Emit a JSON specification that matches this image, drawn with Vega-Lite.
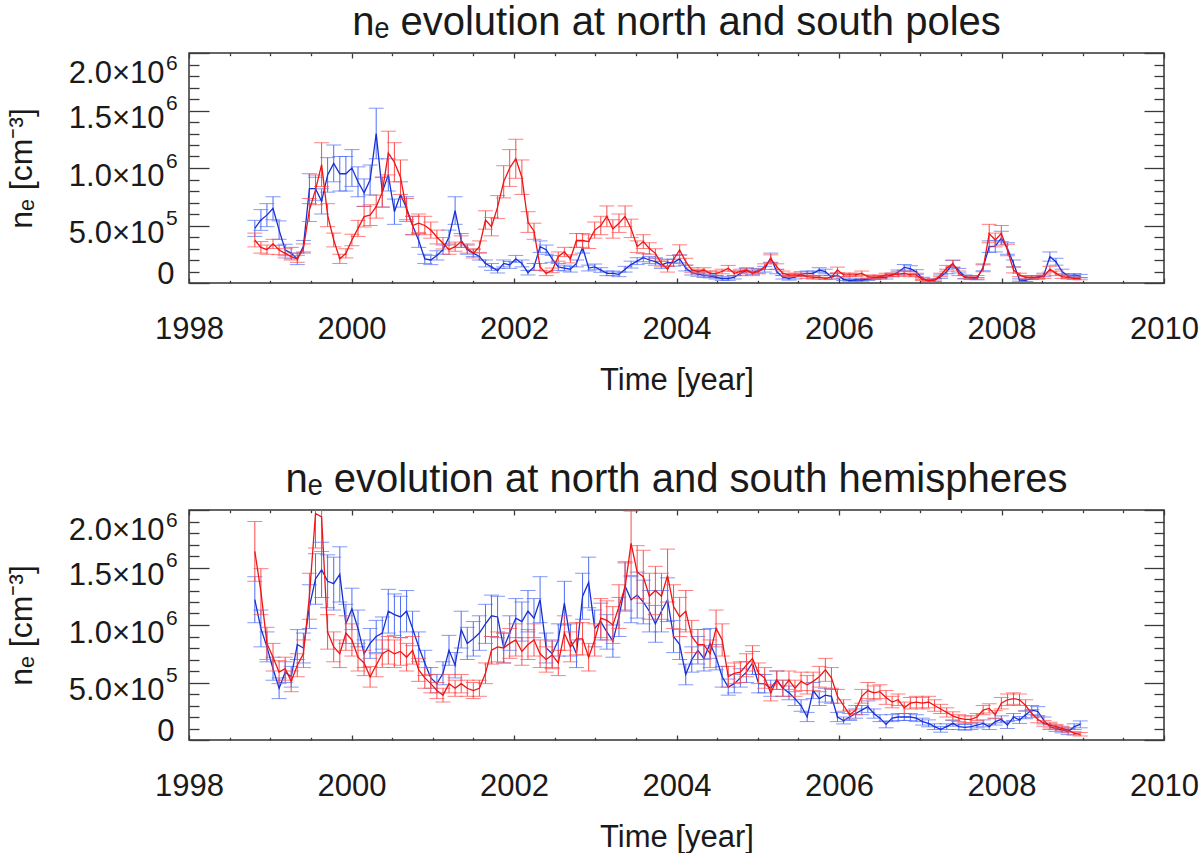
{
  "$schema": "https://vega.github.io/schema/vega-lite/v6.json",
  "background": "white",
  "padding": {"left": 4, "top": 2, "right": 0, "bottom": 0},
  "spacing": 63,
  "config": {
    "view": {"stroke": "#333333", "strokeWidth": 1.5},
    "font": "Liberation Sans",
    "axis": {"grid": false, "domain": false, "labelFont": "Liberation Sans", "titleFont": "Liberation Sans", "labelColor": "#1a1a1a", "titleColor": "#1a1a1a", "tickColor": "#3a3a3a", "tickWidth": 1.3, "titleFontWeight": "normal", "labelFontWeight": "normal"},
    "title": {"font": "Liberation Sans", "fontSize": 40, "fontWeight": "normal", "color": "#1a1a1a", "anchor": "middle", "frame": "group", "offset": 9}
  },
  "datasets": {
    "poles": [
      {"t":1998.810,"b":4.75e5,"be":0.7e5,"r":3.74e5,"re":0.6e5},
      {"t":1998.885,"b":5.48e5,"be":0.9e5,"r":3.1e5,"re":0.5e5},
      {"t":1998.959,"b":5.9e5,"be":1.0e5,"r":2.9e5,"re":0.4e5},
      {"t":1999.034,"b":6.5e5,"be":1.0e5,"r":3.4e5,"re":0.4e5},
      {"t":1999.109,"b":4.6e5,"be":0.8e5,"r":2.87e5,"re":0.4e5},
      {"t":1999.184,"b":2.87e5,"be":0.5e5,"r":2.58e5,"re":0.4e5},
      {"t":1999.258,"b":2.6e5,"be":0.5e5,"r":2.3e5,"re":0.3e5},
      {"t":1999.333,"b":2.1e5,"be":0.5e5,"r":2.1e5,"re":0.3e5},
      {"t":1999.408,"b":3.2e5,"be":0.5e5,"r":3.0e5,"re":0.4e5},
      {"t":1999.482,"b":8.2e5,"be":1.3e5,"r":6.35e5,"re":1.0e5},
      {"t":1999.557,"b":8.2e5,"be":1.0e5,"r":8.1e5,"re":1.3e5},
      {"t":1999.632,"b":7.1e5,"be":1.1e5,"r":10.3e5,"re":1.9e5},
      {"t":1999.706,"b":9.4e5,"be":1.5e5,"r":5.9e5,"re":1.0e5},
      {"t":1999.781,"b":10.4e5,"be":1.6e5,"r":3.74e5,"re":0.6e5},
      {"t":1999.856,"b":9.5e5,"be":1.5e5,"r":2.1e5,"re":0.4e5},
      {"t":1999.931,"b":9.5e5,"be":1.5e5,"r":2.58e5,"re":0.4e5},
      {"t":2000.005,"b":10.0e5,"be":1.6e5,"r":3.74e5,"re":0.5e5},
      {"t":2000.080,"b":8.8e5,"be":1.3e5,"r":4.75e5,"re":0.7e5},
      {"t":2000.155,"b":7.85e5,"be":1.2e5,"r":5.77e5,"re":0.9e5},
      {"t":2000.229,"b":8.96e5,"be":1.3e5,"r":5.9e5,"re":0.9e5},
      {"t":2000.304,"b":13.0e5,"be":2.2e5,"r":6.64e5,"re":1.0e5},
      {"t":2000.379,"b":7.9e5,"be":1.3e5,"r":7.9e5,"re":1.3e5},
      {"t":2000.453,"b":9.4e5,"be":1.4e5,"r":11.3e5,"re":1.9e5},
      {"t":2000.528,"b":6.2e5,"be":1.1e5,"r":10.5e5,"re":1.7e5},
      {"t":2000.603,"b":7.7e5,"be":1.1e5,"r":9.2e5,"re":1.5e5},
      {"t":2000.678,"b":6.5e5,"be":1.0e5,"r":6.35e5,"re":1.0e5},
      {"t":2000.752,"b":5.0e5,"be":0.8e5,"r":5.0e5,"re":0.8e5},
      {"t":2000.827,"b":3.7e5,"be":0.6e5,"r":5.2e5,"re":0.8e5},
      {"t":2000.902,"b":2.1e5,"be":0.4e5,"r":5.0e5,"re":0.8e5},
      {"t":2000.976,"b":2.0e5,"be":0.4e5,"r":4.6e5,"re":0.7e5},
      {"t":2001.051,"b":2.4e5,"be":0.4e5,"r":4.0e5,"re":0.6e5},
      {"t":2001.126,"b":2.9e5,"be":0.4e5,"r":3.45e5,"re":0.5e5},
      {"t":2001.200,"b":4.0e5,"be":0.6e5,"r":2.9e5,"re":0.4e5},
      {"t":2001.275,"b":6.3e5,"be":1.2e5,"r":3.16e5,"re":0.4e5},
      {"t":2001.350,"b":3.7e5,"be":0.6e5,"r":3.6e5,"re":0.5e5},
      {"t":2001.425,"b":2.9e5,"be":0.4e5,"r":3.0e5,"re":0.4e5},
      {"t":2001.499,"b":2.6e5,"be":0.3e5,"r":2.58e5,"re":0.4e5},
      {"t":2001.574,"b":2.3e5,"be":0.3e5,"r":3.16e5,"re":0.5e5},
      {"t":2001.649,"b":1.7e5,"be":0.3e5,"r":5.48e5,"re":0.8e5},
      {"t":2001.723,"b":1.4e5,"be":0.3e5,"r":4.9e5,"re":0.8e5},
      {"t":2001.798,"b":1.07e5,"be":0.2e5,"r":6.6e5,"re":1.0e5},
      {"t":2001.873,"b":1.7e5,"be":0.3e5,"r":8.8e5,"re":1.4e5},
      {"t":2001.947,"b":1.57e5,"be":0.3e5,"r":10.0e5,"re":1.6e5},
      {"t":2002.022,"b":2.1e5,"be":0.3e5,"r":10.8e5,"re":1.7e5},
      {"t":2002.097,"b":1.7e5,"be":0.3e5,"r":9.2e5,"re":1.5e5},
      {"t":2002.172,"b":0.9e5,"be":0.2e5,"r":5.3e5,"re":0.9e5},
      {"t":2002.246,"b":1.4e5,"be":0.3e5,"r":4.5e5,"re":0.7e5},
      {"t":2002.321,"b":3.16e5,"be":0.5e5,"r":1.4e5,"re":0.3e5},
      {"t":2002.396,"b":2.9e5,"be":0.4e5,"r":0.84e5,"re":0.2e5},
      {"t":2002.470,"b":2.1e5,"be":0.3e5,"r":1.1e5,"re":0.2e5},
      {"t":2002.545,"b":1.4e5,"be":0.3e5,"r":2.3e5,"re":0.4e5},
      {"t":2002.620,"b":1.3e5,"be":0.25e5,"r":2.7e5,"re":0.4e5},
      {"t":2002.694,"b":1.2e5,"be":0.25e5,"r":2.1e5,"re":0.35e5},
      {"t":2002.769,"b":1.7e5,"be":0.3e5,"r":3.7e5,"re":0.6e5},
      {"t":2002.844,"b":3.1e5,"be":0.5e5,"r":3.7e5,"re":0.6e5},
      {"t":2002.919,"b":1.3e5,"be":0.25e5,"r":3.6e5,"re":0.6e5},
      {"t":2002.993,"b":1.4e5,"be":0.25e5,"r":4.6e5,"re":0.7e5},
      {"t":2003.068,"b":1.13e5,"be":0.2e5,"r":5.0e5,"re":0.8e5},
      {"t":2003.143,"b":0.84e5,"be":0.2e5,"r":5.8e5,"re":0.9e5},
      {"t":2003.217,"b":0.84e5,"be":0.2e5,"r":4.7e5,"re":0.8e5},
      {"t":2003.292,"b":0.75e5,"be":0.2e5,"r":5.2e5,"re":0.8e5},
      {"t":2003.367,"b":1.2e5,"be":0.25e5,"r":5.8e5,"re":0.9e5},
      {"t":2003.441,"b":1.6e5,"be":0.3e5,"r":4.75e5,"re":0.8e5},
      {"t":2003.516,"b":1.9e5,"be":0.3e5,"r":3.16e5,"re":0.5e5},
      {"t":2003.591,"b":2.2e5,"be":0.35e5,"r":3.6e5,"re":0.6e5},
      {"t":2003.666,"b":2.0e5,"be":0.3e5,"r":3.0e5,"re":0.5e5},
      {"t":2003.740,"b":1.85e5,"be":0.3e5,"r":2.58e5,"re":0.4e5},
      {"t":2003.815,"b":1.57e5,"be":0.3e5,"r":1.7e5,"re":0.3e5},
      {"t":2003.890,"b":1.77e5,"be":0.3e5,"r":1.2e5,"re":0.25e5},
      {"t":2003.964,"b":1.77e5,"be":0.3e5,"r":2.05e5,"re":0.35e5},
      {"t":2004.039,"b":2.1e5,"be":0.35e5,"r":2.87e5,"re":0.45e5},
      {"t":2004.114,"b":1.3e5,"be":0.25e5,"r":1.85e5,"re":0.3e5},
      {"t":2004.188,"b":0.9e5,"be":0.2e5,"r":1.13e5,"re":0.2e5},
      {"t":2004.263,"b":0.78e5,"be":0.2e5,"r":1.0e5,"re":0.2e5},
      {"t":2004.338,"b":0.67e5,"be":0.2e5,"r":1.13e5,"re":0.2e5},
      {"t":2004.413,"b":0.6e5,"be":0.15e5,"r":0.84e5,"re":0.2e5},
      {"t":2004.487,"b":0.5e5,"be":0.15e5,"r":0.84e5,"re":0.2e5},
      {"t":2004.562,"b":0.38e5,"be":0.15e5,"r":1.0e5,"re":0.2e5},
      {"t":2004.637,"b":0.38e5,"be":0.15e5,"r":1.28e5,"re":0.25e5},
      {"t":2004.711,"b":0.5e5,"be":0.15e5,"r":0.84e5,"re":0.2e5},
      {"t":2004.786,"b":0.84e5,"be":0.2e5,"r":1.0e5,"re":0.2e5},
      {"t":2004.861,"b":1.07e5,"be":0.2e5,"r":1.13e5,"re":0.2e5},
      {"t":2004.935,"b":0.93e5,"be":0.2e5,"r":0.84e5,"re":0.2e5},
      {"t":2005.010,"b":1.07e5,"be":0.2e5,"r":1.0e5,"re":0.2e5},
      {"t":2005.085,"b":1.2e5,"be":0.25e5,"r":1.42e5,"re":0.25e5},
      {"t":2005.160,"b":2.2e5,"be":0.4e5,"r":2.1e5,"re":0.35e5},
      {"t":2005.234,"b":1.0e5,"be":0.2e5,"r":1.42e5,"re":0.25e5},
      {"t":2005.309,"b":0.5e5,"be":0.15e5,"r":0.84e5,"re":0.2e5},
      {"t":2005.384,"b":0.4e5,"be":0.15e5,"r":0.7e5,"re":0.15e5},
      {"t":2005.458,"b":0.5e5,"be":0.15e5,"r":0.7e5,"re":0.15e5},
      {"t":2005.533,"b":0.78e5,"be":0.2e5,"r":0.7e5,"re":0.15e5},
      {"t":2005.608,"b":0.84e5,"be":0.2e5,"r":0.55e5,"re":0.15e5},
      {"t":2005.682,"b":0.84e5,"be":0.2e5,"r":0.5e5,"re":0.15e5},
      {"t":2005.757,"b":1.13e5,"be":0.2e5,"r":0.5e5,"re":0.15e5},
      {"t":2005.832,"b":1.0e5,"be":0.2e5,"r":0.4e5,"re":0.1e5},
      {"t":2005.907,"b":0.5e5,"be":0.15e5,"r":0.5e5,"re":0.15e5},
      {"t":2005.981,"b":0.7e5,"be":0.15e5,"r":1.13e5,"re":0.25e5},
      {"t":2006.056,"b":0.32e5,"be":0.1e5,"r":0.7e5,"re":0.15e5},
      {"t":2006.131,"b":0.2e5,"be":0.1e5,"r":0.7e5,"re":0.15e5},
      {"t":2006.205,"b":0.26e5,"be":0.1e5,"r":0.7e5,"re":0.15e5},
      {"t":2006.280,"b":0.26e5,"be":0.1e5,"r":0.84e5,"re":0.2e5},
      {"t":2006.355,"b":0.32e5,"be":0.1e5,"r":0.55e5,"re":0.15e5},
      {"t":2006.429,"b":0.4e5,"be":0.1e5,"r":0.5e5,"re":0.15e5},
      {"t":2006.504,"b":0.5e5,"be":0.15e5,"r":0.55e5,"re":0.15e5},
      {"t":2006.579,"b":0.5e5,"be":0.15e5,"r":0.7e5,"re":0.15e5},
      {"t":2006.654,"b":0.7e5,"be":0.15e5,"r":0.7e5,"re":0.15e5},
      {"t":2006.728,"b":0.93e5,"be":0.2e5,"r":0.78e5,"re":0.2e5},
      {"t":2006.803,"b":1.36e5,"be":0.25e5,"r":0.84e5,"re":0.2e5},
      {"t":2006.878,"b":1.25e5,"be":0.25e5,"r":0.7e5,"re":0.15e5},
      {"t":2006.952,"b":0.96e5,"be":0.2e5,"r":0.7e5,"re":0.15e5},
      {"t":2007.027,"b":0.4e5,"be":0.1e5,"r":0.32e5,"re":0.1e5},
      {"t":2007.102,"b":0.2e5,"be":0.1e5,"r":0.2e5,"re":0.1e5},
      {"t":2007.176,"b":0.26e5,"be":0.1e5,"r":0.26e5,"re":0.1e5},
      {"t":2007.251,"b":0.55e5,"be":0.15e5,"r":0.7e5,"re":0.15e5},
      {"t":2007.326,"b":1.0e5,"be":0.2e5,"r":1.28e5,"re":0.25e5},
      {"t":2007.401,"b":1.65e5,"be":0.3e5,"r":1.7e5,"re":0.3e5},
      {"t":2007.475,"b":1.07e5,"be":0.2e5,"r":0.84e5,"re":0.2e5},
      {"t":2007.550,"b":0.55e5,"be":0.15e5,"r":0.5e5,"re":0.15e5},
      {"t":2007.625,"b":0.4e5,"be":0.1e5,"r":0.5e5,"re":0.15e5},
      {"t":2007.699,"b":0.38e5,"be":0.1e5,"r":0.5e5,"re":0.15e5},
      {"t":2007.774,"b":1.36e5,"be":0.3e5,"r":1.28e5,"re":0.3e5},
      {"t":2007.849,"b":3.16e5,"be":0.5e5,"r":4.3e5,"re":0.8e5},
      {"t":2007.923,"b":3.2e5,"be":0.5e5,"r":3.74e5,"re":0.6e5},
      {"t":2007.998,"b":3.9e5,"be":0.6e5,"r":4.3e5,"re":0.7e5},
      {"t":2008.073,"b":3.0e5,"be":0.5e5,"r":2.87e5,"re":0.5e5},
      {"t":2008.148,"b":1.7e5,"be":0.3e5,"r":1.13e5,"re":0.25e5},
      {"t":2008.222,"b":0.26e5,"be":0.1e5,"r":0.7e5,"re":0.15e5},
      {"t":2008.297,"b":0.23e5,"be":0.1e5,"r":0.5e5,"re":0.15e5},
      {"t":2008.372,"b":0.4e5,"be":0.1e5,"r":0.5e5,"re":0.15e5},
      {"t":2008.446,"b":0.5e5,"be":0.15e5,"r":0.5e5,"re":0.15e5},
      {"t":2008.521,"b":0.7e5,"be":0.15e5,"r":0.55e5,"re":0.15e5},
      {"t":2008.596,"b":2.3e5,"be":0.4e5,"r":1.2e5,"re":0.25e5},
      {"t":2008.670,"b":1.85e5,"be":0.3e5,"r":0.84e5,"re":0.2e5},
      {"t":2008.745,"b":1.0e5,"be":0.2e5,"r":0.55e5,"re":0.15e5},
      {"t":2008.820,"b":0.6e5,"be":0.15e5,"r":0.5e5,"re":0.15e5},
      {"t":2008.894,"b":0.67e5,"be":0.15e5,"r":0.4e5,"re":0.1e5},
      {"t":2008.969,"b":0.6e5,"be":0.15e5,"r":0.38e5,"re":0.1e5}
    ],
    "hemi": [
      {"t":1998.810,"b":12.2e5,"be":2.0e5,"r":16.4e5,"re":2.6e5},
      {"t":1998.885,"b":9.7e5,"be":1.6e5,"r":12.9e5,"re":2.0e5},
      {"t":1998.959,"b":8.1e5,"be":1.3e5,"r":8.4e5,"re":1.4e5},
      {"t":1999.034,"b":6.2e5,"be":1.0e5,"r":7.2e5,"re":1.2e5},
      {"t":1999.109,"b":4.5e5,"be":0.9e5,"r":5.9e5,"re":1.0e5},
      {"t":1999.184,"b":5.9e5,"be":0.9e5,"r":6.2e5,"re":1.0e5},
      {"t":1999.258,"b":5.5e5,"be":0.9e5,"r":5.1e5,"re":0.9e5},
      {"t":1999.333,"b":8.3e5,"be":1.3e5,"r":6.5e5,"re":1.0e5},
      {"t":1999.408,"b":8.0e5,"be":1.3e5,"r":7.5e5,"re":1.2e5},
      {"t":1999.482,"b":11.6e5,"be":1.9e5,"r":12.5e5,"re":2.0e5},
      {"t":1999.557,"b":14.0e5,"be":2.2e5,"r":19.7e5,"re":3.0e5},
      {"t":1999.632,"b":14.8e5,"be":2.4e5,"r":19.4e5,"re":3.0e5},
      {"t":1999.706,"b":13.8e5,"be":2.3e5,"r":9.4e5,"re":1.5e5},
      {"t":1999.781,"b":13.6e5,"be":2.3e5,"r":8.1e5,"re":1.3e5},
      {"t":1999.856,"b":14.4e5,"be":2.4e5,"r":7.5e5,"re":1.2e5},
      {"t":1999.931,"b":10.1e5,"be":1.7e5,"r":9.3e5,"re":1.5e5},
      {"t":2000.005,"b":11.4e5,"be":1.8e5,"r":8.7e5,"re":1.4e5},
      {"t":2000.080,"b":9.7e5,"be":1.6e5,"r":7.2e5,"re":1.2e5},
      {"t":2000.155,"b":7.5e5,"be":1.2e5,"r":6.7e5,"re":1.1e5},
      {"t":2000.229,"b":8.4e5,"be":1.3e5,"r":5.5e5,"re":0.9e5},
      {"t":2000.304,"b":9.0e5,"be":1.4e5,"r":6.5e5,"re":1.0e5},
      {"t":2000.379,"b":9.3e5,"be":1.4e5,"r":7.5e5,"re":1.2e5},
      {"t":2000.453,"b":11.2e5,"be":1.9e5,"r":7.8e5,"re":1.2e5},
      {"t":2000.528,"b":10.9e5,"be":1.8e5,"r":7.5e5,"re":1.2e5},
      {"t":2000.603,"b":10.7e5,"be":1.8e5,"r":7.7e5,"re":1.2e5},
      {"t":2000.678,"b":11.2e5,"be":1.8e5,"r":7.2e5,"re":1.2e5},
      {"t":2000.752,"b":9.7e5,"be":1.5e5,"r":7.8e5,"re":1.2e5},
      {"t":2000.827,"b":8.1e5,"be":1.3e5,"r":6.1e5,"re":1.0e5},
      {"t":2000.902,"b":6.7e5,"be":1.1e5,"r":5.4e5,"re":0.9e5},
      {"t":2000.976,"b":5.4e5,"be":0.9e5,"r":4.9e5,"re":0.8e5},
      {"t":2001.051,"b":4.9e5,"be":0.8e5,"r":4.3e5,"re":0.7e5},
      {"t":2001.126,"b":5.8e5,"be":1.0e5,"r":3.9e5,"re":0.6e5},
      {"t":2001.200,"b":7.8e5,"be":1.3e5,"r":4.9e5,"re":0.8e5},
      {"t":2001.275,"b":6.5e5,"be":1.1e5,"r":4.5e5,"re":0.7e5},
      {"t":2001.350,"b":9.6e5,"be":1.6e5,"r":4.9e5,"re":0.8e5},
      {"t":2001.425,"b":8.4e5,"be":1.4e5,"r":4.5e5,"re":0.7e5},
      {"t":2001.499,"b":8.8e5,"be":1.5e5,"r":4.3e5,"re":0.7e5},
      {"t":2001.574,"b":9.3e5,"be":1.5e5,"r":4.5e5,"re":0.7e5},
      {"t":2001.649,"b":10.1e5,"be":1.7e5,"r":5.8e5,"re":0.9e5},
      {"t":2001.723,"b":10.8e5,"be":1.8e5,"r":7.8e5,"re":1.2e5},
      {"t":2001.798,"b":10.7e5,"be":1.8e5,"r":8.1e5,"re":1.3e5},
      {"t":2001.873,"b":8.0e5,"be":1.3e5,"r":8.0e5,"re":1.3e5},
      {"t":2001.947,"b":9.3e5,"be":1.5e5,"r":8.4e5,"re":1.3e5},
      {"t":2002.022,"b":10.6e5,"be":1.7e5,"r":8.7e5,"re":1.4e5},
      {"t":2002.097,"b":10.3e5,"be":1.7e5,"r":7.7e5,"re":1.2e5},
      {"t":2002.172,"b":11.2e5,"be":1.8e5,"r":8.3e5,"re":1.3e5},
      {"t":2002.246,"b":10.6e5,"be":1.7e5,"r":8.7e5,"re":1.4e5},
      {"t":2002.321,"b":12.2e5,"be":2.0e5,"r":7.5e5,"re":1.2e5},
      {"t":2002.396,"b":8.0e5,"be":1.3e5,"r":7.0e5,"re":1.1e5},
      {"t":2002.470,"b":7.5e5,"be":1.2e5,"r":7.4e5,"re":1.2e5},
      {"t":2002.545,"b":8.7e5,"be":1.4e5,"r":6.7e5,"re":1.1e5},
      {"t":2002.620,"b":11.9e5,"be":1.9e5,"r":9.3e5,"re":1.5e5},
      {"t":2002.694,"b":8.7e5,"be":1.4e5,"r":8.1e5,"re":1.3e5},
      {"t":2002.769,"b":7.5e5,"be":1.2e5,"r":8.8e5,"re":1.4e5},
      {"t":2002.844,"b":12.5e5,"be":2.0e5,"r":8.8e5,"re":1.4e5},
      {"t":2002.919,"b":13.7e5,"be":2.2e5,"r":7.2e5,"re":1.2e5},
      {"t":2002.993,"b":9.7e5,"be":1.6e5,"r":8.7e5,"re":1.4e5},
      {"t":2003.068,"b":10.3e5,"be":1.6e5,"r":10.6e5,"re":1.7e5},
      {"t":2003.143,"b":9.4e5,"be":1.5e5,"r":10.4e5,"re":1.7e5},
      {"t":2003.217,"b":8.6e5,"be":1.4e5,"r":10.0e5,"re":1.6e5},
      {"t":2003.292,"b":10.7e5,"be":1.7e5,"r":11.6e5,"re":1.9e5},
      {"t":2003.367,"b":13.4e5,"be":2.1e5,"r":13.3e5,"re":2.1e5},
      {"t":2003.441,"b":12.2e5,"be":2.0e5,"r":17.1e5,"re":2.8e5},
      {"t":2003.516,"b":12.6e5,"be":2.0e5,"r":14.6e5,"re":2.3e5},
      {"t":2003.591,"b":12.0e5,"be":1.9e5,"r":14.2e5,"re":2.3e5},
      {"t":2003.666,"b":11.2e5,"be":1.8e5,"r":12.5e5,"re":2.0e5},
      {"t":2003.740,"b":10.1e5,"be":1.6e5,"r":13.0e5,"re":2.1e5},
      {"t":2003.815,"b":11.2e5,"be":1.8e5,"r":12.5e5,"re":2.0e5},
      {"t":2003.890,"b":12.2e5,"be":1.9e5,"r":14.3e5,"re":2.3e5},
      {"t":2003.964,"b":9.0e5,"be":1.4e5,"r":11.6e5,"re":1.9e5},
      {"t":2004.039,"b":8.3e5,"be":1.3e5,"r":10.7e5,"re":1.7e5},
      {"t":2004.114,"b":5.7e5,"be":0.9e5,"r":11.2e5,"re":1.8e5},
      {"t":2004.188,"b":7.0e5,"be":1.1e5,"r":9.0e5,"re":1.4e5},
      {"t":2004.263,"b":7.8e5,"be":1.2e5,"r":8.3e5,"re":1.3e5},
      {"t":2004.338,"b":7.1e5,"be":1.1e5,"r":8.3e5,"re":1.3e5},
      {"t":2004.413,"b":8.4e5,"be":1.3e5,"r":7.5e5,"re":1.2e5},
      {"t":2004.487,"b":7.2e5,"be":1.1e5,"r":9.7e5,"re":1.6e5},
      {"t":2004.562,"b":5.5e5,"be":0.9e5,"r":8.7e5,"re":1.4e5},
      {"t":2004.637,"b":4.6e5,"be":0.7e5,"r":5.5e5,"re":0.9e5},
      {"t":2004.711,"b":4.9e5,"be":0.8e5,"r":5.8e5,"re":0.9e5},
      {"t":2004.786,"b":5.4e5,"be":0.8e5,"r":5.9e5,"re":0.9e5},
      {"t":2004.861,"b":5.9e5,"be":0.9e5,"r":6.5e5,"re":1.0e5},
      {"t":2004.935,"b":6.7e5,"be":1.0e5,"r":7.1e5,"re":1.1e5},
      {"t":2005.010,"b":4.9e5,"be":0.8e5,"r":5.8e5,"re":0.9e5},
      {"t":2005.085,"b":4.9e5,"be":0.8e5,"r":5.4e5,"re":0.9e5},
      {"t":2005.160,"b":4.5e5,"be":0.7e5,"r":4.1e5,"re":0.7e5},
      {"t":2005.234,"b":5.2e5,"be":0.8e5,"r":5.2e5,"re":0.8e5},
      {"t":2005.309,"b":4.5e5,"be":0.7e5,"r":4.5e5,"re":0.7e5},
      {"t":2005.384,"b":4.1e5,"be":0.6e5,"r":5.2e5,"re":0.8e5},
      {"t":2005.458,"b":3.6e5,"be":0.6e5,"r":4.5e5,"re":0.7e5},
      {"t":2005.533,"b":3.0e5,"be":0.5e5,"r":5.1e5,"re":0.8e5},
      {"t":2005.608,"b":2.0e5,"be":0.4e5,"r":4.8e5,"re":0.8e5},
      {"t":2005.682,"b":4.3e5,"be":0.7e5,"r":5.1e5,"re":0.8e5},
      {"t":2005.757,"b":3.6e5,"be":0.6e5,"r":5.5e5,"re":0.9e5},
      {"t":2005.832,"b":3.9e5,"be":0.6e5,"r":6.1e5,"re":1.0e5},
      {"t":2005.907,"b":3.8e5,"be":0.6e5,"r":5.4e5,"re":0.9e5},
      {"t":2005.981,"b":2.0e5,"be":0.4e5,"r":3.8e5,"re":0.6e5},
      {"t":2006.056,"b":1.7e5,"be":0.3e5,"r":3.0e5,"re":0.5e5},
      {"t":2006.131,"b":2.0e5,"be":0.3e5,"r":2.2e5,"re":0.4e5},
      {"t":2006.205,"b":2.3e5,"be":0.4e5,"r":2.6e5,"re":0.4e5},
      {"t":2006.280,"b":2.6e5,"be":0.4e5,"r":3.8e5,"re":0.6e5},
      {"t":2006.355,"b":2.9e5,"be":0.5e5,"r":4.3e5,"re":0.7e5},
      {"t":2006.429,"b":2.3e5,"be":0.4e5,"r":4.1e5,"re":0.6e5},
      {"t":2006.504,"b":1.9e5,"be":0.3e5,"r":4.2e5,"re":0.6e5},
      {"t":2006.579,"b":1.36e5,"be":0.3e5,"r":3.7e5,"re":0.6e5},
      {"t":2006.654,"b":1.9e5,"be":0.3e5,"r":3.3e5,"re":0.5e5},
      {"t":2006.728,"b":2.0e5,"be":0.3e5,"r":3.5e5,"re":0.5e5},
      {"t":2006.803,"b":2.0e5,"be":0.3e5,"r":2.8e5,"re":0.5e5},
      {"t":2006.878,"b":2.0e5,"be":0.3e5,"r":3.2e5,"re":0.5e5},
      {"t":2006.952,"b":1.9e5,"be":0.3e5,"r":3.3e5,"re":0.5e5},
      {"t":2007.027,"b":1.6e5,"be":0.3e5,"r":3.2e5,"re":0.5e5},
      {"t":2007.102,"b":1.45e5,"be":0.3e5,"r":3.3e5,"re":0.5e5},
      {"t":2007.176,"b":1.16e5,"be":0.25e5,"r":3.0e5,"re":0.5e5},
      {"t":2007.251,"b":0.93e5,"be":0.25e5,"r":2.7e5,"re":0.4e5},
      {"t":2007.326,"b":1.16e5,"be":0.25e5,"r":2.4e5,"re":0.4e5},
      {"t":2007.401,"b":1.45e5,"be":0.25e5,"r":2.1e5,"re":0.35e5},
      {"t":2007.475,"b":1.16e5,"be":0.25e5,"r":1.9e5,"re":0.3e5},
      {"t":2007.550,"b":1.1e5,"be":0.25e5,"r":1.8e5,"re":0.3e5},
      {"t":2007.625,"b":1.16e5,"be":0.25e5,"r":1.8e5,"re":0.3e5},
      {"t":2007.699,"b":1.3e5,"be":0.25e5,"r":2.0e5,"re":0.3e5},
      {"t":2007.774,"b":1.45e5,"be":0.3e5,"r":2.6e5,"re":0.4e5},
      {"t":2007.849,"b":1.16e5,"be":0.25e5,"r":2.75e5,"re":0.4e5},
      {"t":2007.923,"b":1.6e5,"be":0.3e5,"r":2.2e5,"re":0.35e5},
      {"t":2007.998,"b":1.8e5,"be":0.3e5,"r":3.2e5,"re":0.5e5},
      {"t":2008.073,"b":1.3e5,"be":0.3e5,"r":3.5e5,"re":0.5e5},
      {"t":2008.148,"b":2.0e5,"be":0.3e5,"r":3.6e5,"re":0.5e5},
      {"t":2008.222,"b":1.74e5,"be":0.3e5,"r":3.5e5,"re":0.5e5},
      {"t":2008.297,"b":2.2e5,"be":0.35e5,"r":3.0e5,"re":0.5e5},
      {"t":2008.372,"b":2.6e5,"be":0.4e5,"r":2.3e5,"re":0.35e5},
      {"t":2008.446,"b":2.5e5,"be":0.4e5,"r":1.8e5,"re":0.3e5},
      {"t":2008.521,"b":1.7e5,"be":0.3e5,"r":1.45e5,"re":0.25e5},
      {"t":2008.596,"b":1.16e5,"be":0.25e5,"r":1.3e5,"re":0.25e5},
      {"t":2008.670,"b":1.0e5,"be":0.25e5,"r":1.16e5,"re":0.2e5},
      {"t":2008.745,"b":0.87e5,"be":0.25e5,"r":1.0e5,"re":0.2e5},
      {"t":2008.820,"b":0.72e5,"be":0.25e5,"r":0.87e5,"re":0.2e5},
      {"t":2008.894,"b":1.16e5,"be":0.25e5,"r":0.58e5,"re":0.15e5},
      {"t":2008.969,"b":1.36e5,"be":0.3e5,"r":0.5e5,"re":0.15e5}
    ]
  },
  "vconcat": [
    {
      "title": {"text": "nₑ evolution at north and south poles"},
      "width": 975,
      "height": 230,
      "data": {"name": "poles"},
      "resolve": {"axis": {"x": "independent", "y": "independent"}},
      "layer": [
        {
          "mark": {"type": "errorbar", "color": "#4f6ef5", "thickness": 1, "ticks": true, "size": 15, "clip": true},
          "encoding": {
            "x": {"field": "t", "type": "quantitative", "scale": {"domain": [1998, 2010], "nice": false, "zero": false},
              "axis": {"orient": "bottom", "values": [1998, 2000, 2002, 2004, 2006, 2008, 2010], "labels": false, "ticks": true, "tickSize": -5, "domain": false, "title": null}},
            "y": {"field": "b", "type": "quantitative", "scale": {"domain": [0, 2000000], "nice": false, "zero": false},
              "axis": {"orient": "left", "values": [0, 500000, 1000000, 1500000, 2000000], "labels": false, "ticks": true, "tickSize": -20, "domain": false, "title": null}},
            "yError": {"field": "be"}
          }
        },
        {
          "mark": {"type": "line", "color": "#1a2fd2", "strokeWidth": 1.3, "clip": true},
          "encoding": {
            "x": {"field": "t", "type": "quantitative",
              "axis": {"orient": "bottom", "values": [1998.5, 1999, 1999.5, 2000.5, 2001, 2001.5, 2002.5, 2003, 2003.5, 2004.5, 2005, 2005.5, 2006.5, 2007, 2007.5, 2008.5, 2009, 2009.5], "labels": false, "ticks": true, "tickSize": -2.7, "domain": false, "title": null}},
            "y": {"field": "b", "type": "quantitative",
              "axis": {"orient": "left", "values": [100000, 200000, 300000, 400000, 600000, 700000, 800000, 900000, 1100000, 1200000, 1300000, 1400000, 1600000, 1700000, 1800000, 1900000], "labels": false, "ticks": true, "tickSize": -10, "domain": false, "title": null}}
          }
        },
        {
          "mark": {"type": "errorbar", "color": "#ff4a4a", "thickness": 1, "ticks": true, "size": 15, "clip": true},
          "encoding": {
            "x": {"field": "t", "type": "quantitative",
              "axis": {"orient": "top", "values": [1998, 2000, 2002, 2004, 2006, 2008, 2010], "labels": false, "ticks": true, "tickSize": -5, "domain": false, "title": null}},
            "y": {"field": "r", "type": "quantitative",
              "axis": {"orient": "right", "values": [0, 500000, 1000000, 1500000, 2000000], "labels": false, "ticks": true, "tickSize": -20, "domain": false, "title": null}},
            "yError": {"field": "re"}
          }
        },
        {
          "mark": {"type": "line", "color": "#f01414", "strokeWidth": 1.3, "clip": true},
          "encoding": {
            "x": {"field": "t", "type": "quantitative",
              "axis": {"orient": "top", "values": [1998.5, 1999, 1999.5, 2000.5, 2001, 2001.5, 2002.5, 2003, 2003.5, 2004.5, 2005, 2005.5, 2006.5, 2007, 2007.5, 2008.5, 2009, 2009.5], "labels": false, "ticks": true, "tickSize": -2.7, "domain": false, "title": null}},
            "y": {"field": "r", "type": "quantitative",
              "axis": {"orient": "right", "values": [100000, 200000, 300000, 400000, 600000, 700000, 800000, 900000, 1100000, 1200000, 1300000, 1400000, 1600000, 1700000, 1800000, 1900000], "labels": false, "ticks": true, "tickSize": -10, "domain": false, "title": null}}
          }
        },
        {
          "mark": {"type": "point", "opacity": 0, "size": 1, "clip": true},
          "encoding": {
            "x": {"field": "t", "type": "quantitative",
              "axis": {"orient": "bottom", "values": [1998, 2000, 2002, 2004, 2006, 2008, 2010], "format": "d", "ticks": false, "domain": false, "labelFontSize": 31, "labelPadding": 31, "labelFlush": false, "labelOverlap": false, "title": "Time [year]", "titleFontSize": 31, "titlePadding": 21}},
            "y": {"field": "b", "type": "quantitative",
              "axis": {"orient": "left", "values": [0, 500000, 1000000, 1500000, 2000000], "ticks": false, "domain": false, "labelFontSize": 31, "labelFlush": false, "labelOverlap": false,
                "labelExpr": "datum.value == 0 ? '0' : datum.value == 500000 ? '5.0×10' : datum.value == 1000000 ? '1.0×10' : datum.value == 1500000 ? '1.5×10' : '2.0×10'",
                "labelPadding": {"condition": {"test": "datum.value == 0", "value": 15}, "value": 25},
                "labelOffset": {"condition": [{"test": "datum.value == 0", "value": -9}, {"test": "datum.value == 2000000", "value": 20}], "value": 8},
                "title": "nₑ [cm⁻³]", "titleFontSize": 32, "titlePadding": 30}}
          }
        },
        {
          "mark": {"type": "point", "opacity": 0, "size": 1, "clip": true},
          "encoding": {
            "x": {"field": "t", "type": "quantitative", "axis": null},
            "y": {"field": "r", "type": "quantitative",
              "axis": {"orient": "left", "values": [500000, 1000000, 1500000, 2000000], "ticks": false, "domain": false, "labelFontSize": 21, "labelAlign": "left", "labelPadding": 23.5, "labelFlush": false, "labelOverlap": false,
                "labelExpr": "datum.value == 500000 ? '5' : '6'",
                "labelOffset": {"condition": {"test": "datum.value == 2000000", "value": 10}, "value": -7},
                "title": null}}
          }
        }
      ]
    },
    {
      "title": {"text": "nₑ evolution at north and south hemispheres"},
      "width": 975,
      "height": 230,
      "data": {"name": "hemi"},
      "resolve": {"axis": {"x": "independent", "y": "independent"}},
      "layer": [
        {
          "mark": {"type": "errorbar", "color": "#4f6ef5", "thickness": 1, "ticks": true, "size": 15, "clip": true},
          "encoding": {
            "x": {"field": "t", "type": "quantitative", "scale": {"domain": [1998, 2010], "nice": false, "zero": false},
              "axis": {"orient": "bottom", "values": [1998, 2000, 2002, 2004, 2006, 2008, 2010], "labels": false, "ticks": true, "tickSize": -5, "domain": false, "title": null}},
            "y": {"field": "b", "type": "quantitative", "scale": {"domain": [0, 2000000], "nice": false, "zero": false},
              "axis": {"orient": "left", "values": [0, 500000, 1000000, 1500000, 2000000], "labels": false, "ticks": true, "tickSize": -20, "domain": false, "title": null}},
            "yError": {"field": "be"}
          }
        },
        {
          "mark": {"type": "line", "color": "#1a2fd2", "strokeWidth": 1.3, "clip": true},
          "encoding": {
            "x": {"field": "t", "type": "quantitative",
              "axis": {"orient": "bottom", "values": [1998.5, 1999, 1999.5, 2000.5, 2001, 2001.5, 2002.5, 2003, 2003.5, 2004.5, 2005, 2005.5, 2006.5, 2007, 2007.5, 2008.5, 2009, 2009.5], "labels": false, "ticks": true, "tickSize": -2.7, "domain": false, "title": null}},
            "y": {"field": "b", "type": "quantitative",
              "axis": {"orient": "left", "values": [100000, 200000, 300000, 400000, 600000, 700000, 800000, 900000, 1100000, 1200000, 1300000, 1400000, 1600000, 1700000, 1800000, 1900000], "labels": false, "ticks": true, "tickSize": -10, "domain": false, "title": null}}
          }
        },
        {
          "mark": {"type": "errorbar", "color": "#ff4a4a", "thickness": 1, "ticks": true, "size": 15, "clip": true},
          "encoding": {
            "x": {"field": "t", "type": "quantitative",
              "axis": {"orient": "top", "values": [1998, 2000, 2002, 2004, 2006, 2008, 2010], "labels": false, "ticks": true, "tickSize": -5, "domain": false, "title": null}},
            "y": {"field": "r", "type": "quantitative",
              "axis": {"orient": "right", "values": [0, 500000, 1000000, 1500000, 2000000], "labels": false, "ticks": true, "tickSize": -20, "domain": false, "title": null}},
            "yError": {"field": "re"}
          }
        },
        {
          "mark": {"type": "line", "color": "#f01414", "strokeWidth": 1.3, "clip": true},
          "encoding": {
            "x": {"field": "t", "type": "quantitative",
              "axis": {"orient": "top", "values": [1998.5, 1999, 1999.5, 2000.5, 2001, 2001.5, 2002.5, 2003, 2003.5, 2004.5, 2005, 2005.5, 2006.5, 2007, 2007.5, 2008.5, 2009, 2009.5], "labels": false, "ticks": true, "tickSize": -2.7, "domain": false, "title": null}},
            "y": {"field": "r", "type": "quantitative",
              "axis": {"orient": "right", "values": [100000, 200000, 300000, 400000, 600000, 700000, 800000, 900000, 1100000, 1200000, 1300000, 1400000, 1600000, 1700000, 1800000, 1900000], "labels": false, "ticks": true, "tickSize": -10, "domain": false, "title": null}}
          }
        },
        {
          "mark": {"type": "point", "opacity": 0, "size": 1, "clip": true},
          "encoding": {
            "x": {"field": "t", "type": "quantitative",
              "axis": {"orient": "bottom", "values": [1998, 2000, 2002, 2004, 2006, 2008, 2010], "format": "d", "ticks": false, "domain": false, "labelFontSize": 31, "labelPadding": 31, "labelFlush": false, "labelOverlap": false, "title": "Time [year]", "titleFontSize": 31, "titlePadding": 21}},
            "y": {"field": "b", "type": "quantitative",
              "axis": {"orient": "left", "values": [0, 500000, 1000000, 1500000, 2000000], "ticks": false, "domain": false, "labelFontSize": 31, "labelFlush": false, "labelOverlap": false,
                "labelExpr": "datum.value == 0 ? '0' : datum.value == 500000 ? '5.0×10' : datum.value == 1000000 ? '1.0×10' : datum.value == 1500000 ? '1.5×10' : '2.0×10'",
                "labelPadding": {"condition": {"test": "datum.value == 0", "value": 15}, "value": 25},
                "labelOffset": {"condition": [{"test": "datum.value == 0", "value": -9}, {"test": "datum.value == 2000000", "value": 20}], "value": 8},
                "title": "nₑ [cm⁻³]", "titleFontSize": 32, "titlePadding": 30}}
          }
        },
        {
          "mark": {"type": "point", "opacity": 0, "size": 1, "clip": true},
          "encoding": {
            "x": {"field": "t", "type": "quantitative", "axis": null},
            "y": {"field": "r", "type": "quantitative",
              "axis": {"orient": "left", "values": [500000, 1000000, 1500000, 2000000], "ticks": false, "domain": false, "labelFontSize": 21, "labelAlign": "left", "labelPadding": 23.5, "labelFlush": false, "labelOverlap": false,
                "labelExpr": "datum.value == 500000 ? '5' : '6'",
                "labelOffset": {"condition": {"test": "datum.value == 2000000", "value": 10}, "value": -7},
                "title": null}}
          }
        }
      ]
    }
  ]
}
